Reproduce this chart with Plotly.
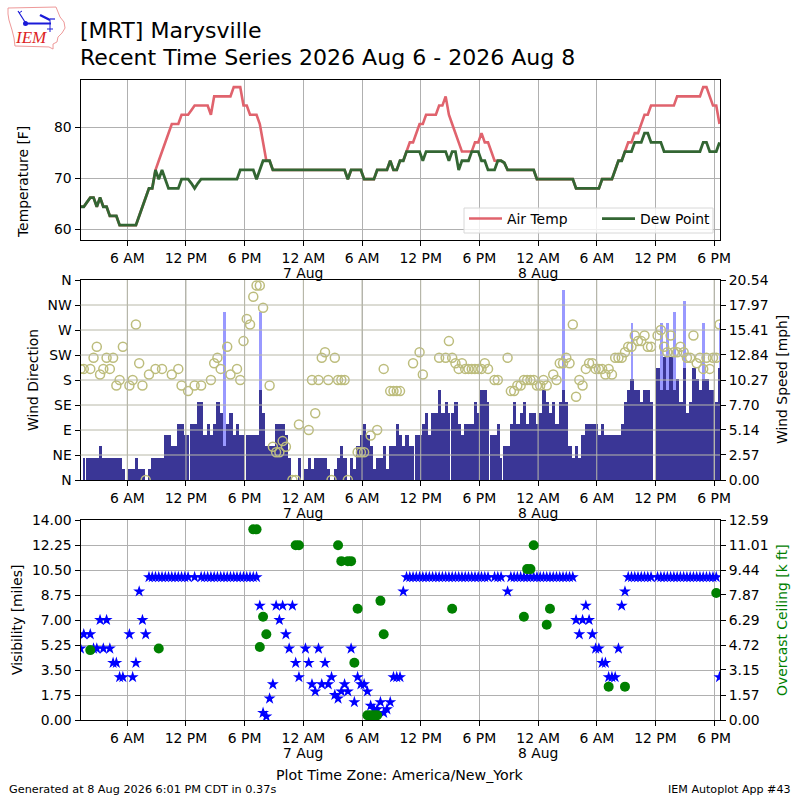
import pandas as pd
import plotly.graph_objects as go

N = None
START = "2026-08-06 01:13"
X_RANGE = ["2026-08-06 01:13", "2026-08-08 18:36"]
PLOT_TITLE = ["[MRT] Marysville", "Recent Time Series 2026 Aug 6 - 2026 Aug 8"]

tick_times = ["2026-08-06 06:00", "2026-08-06 12:00", "2026-08-06 18:00", "2026-08-07 00:00",
              "2026-08-07 06:00", "2026-08-07 12:00", "2026-08-07 18:00", "2026-08-08 00:00",
              "2026-08-08 06:00", "2026-08-08 12:00", "2026-08-08 18:00"]
tick_labels = ["6 AM", "12 PM", "6 PM", "12 AM", "6 AM", "12 PM", "6 PM", "12 AM",
               "6 AM", "12 PM", "6 PM"]
date_times = ["2026-08-07 00:00", "2026-08-08 00:00"]
date_labels = ["7 Aug", "8 Aug"]

# 20 minute samples
air_temp = [
    64.4, 64.4, 65.3, 66.2, 66.2, 64.4, 66.2, 64.4, 64.4, 62.6, 62.6, 62.6, 60.8, 60.8, 60.8, 60.8, 60.8, 60.8,
    62.6, 64.4, 66.2, 68, 68, 71.6, 73.4, 75.2, 77, 78.8, 80.6, 80.6, 80.6, 82.4, 82.4, 82.4, 83.3, 84.2,
    84.2, 84.2, 84.2, 84.2, 82.4, 86, 86, 86, 86, 86, 86, 87.8, 87.8, 87.8, 84.2, 84.2, 82.4, 82.4,
    82.4, 80.6, 77, 73.4, 73.4, 71.6, 71.6, 71.6, 71.6, 71.6, 71.6, 71.6, 71.6, 71.6, 71.6, 71.6, 71.6, 71.6,
    71.6, 71.6, 71.6, 71.6, 71.6, 71.6, 71.6, 71.6, 71.6, 71.6, 69.8, 71.6, 71.6, 71.6, 71.6, 69.8, 69.8, 69.8,
    69.8, 71.6, 71.6, 71.6, 71.6, 73.4, 71.6, 71.6, 73.4, 73.4, 75.2, 77, 77, 78.8, 80.6, 80.6, 82.4, 82.4,
    82.4, 82.4, 84.2, 84.2, 86, 82.4, 80.6, 78.8, 77, 75.2, 75.2, 75.2, 75.2, 77, 77, 78.8, 77, 77,
    75.2, 73.4, 73.4, 73.4, 73, 71.6, 71.6, 71.6, 71.6, 71.6, 71.6, 71.6, 71.6, 71.6, 69.8, 69.8, 69.8, 69.8,
    69.8, 69.8, 69.8, 69.8, 69.8, 69.8, 69.8, 69.8, 68, 68, 68, 68, 68, 68, 68, 68, 69.8, 69.8,
    69.8, 69.8, 71.6, 73.4, 73.4, 75.2, 77, 77, 78.8, 78.8, 80.6, 82.4, 82.4, 84.2, 84.2, 84.2, 84.2, 84.2,
    84.2, 84.2, 84.2, 86, 86, 86, 86, 86, 86, 86, 86, 87.8, 87.8, 86, 84.2, 84.2, 80.6]

dew_point = [
    64.4, 64.4, 65.3, 66.2, 66.2, 64.4, 66.2, 64.4, 64.4, 62.6, 62.6, 62.6, 60.8, 60.8, 60.8, 60.8, 60.8, 60.8,
    62.6, 64.4, 66.2, 68, 68, 71.6, 69.8, 71.6, 69.8, 68, 68, 68, 68, 69.8, 69.8, 69.8, 69, 68,
    69, 69.8, 69.8, 69.8, 69.8, 69.8, 69.8, 69.8, 69.8, 69.8, 69.8, 69.8, 69.8, 71.6, 71.6, 71.6, 71.6, 71.6,
    69.8, 71.6, 73.4, 73.4, 73.4, 71.6, 71.6, 71.6, 71.6, 71.6, 71.6, 71.6, 71.6, 71.6, 71.6, 71.6, 71.6, 71.6,
    71.6, 71.6, 71.6, 71.6, 71.6, 71.6, 71.6, 71.6, 71.6, 71.6, 69.8, 71.6, 71.6, 71.6, 71.6, 69.8, 69.8, 69.8,
    69.8, 71.6, 71.6, 71.6, 71.6, 73.4, 71.6, 71.6, 73.4, 73.4, 75.2, 75.2, 75.2, 75.2, 75.2, 73.4, 75.2, 75.2,
    75.2, 75.2, 75.2, 75.2, 75.2, 73.4, 75.2, 75.2, 71.6, 73.4, 73.4, 73.4, 75.2, 75.2, 75.2, 73.4, 73.4, 71.6,
    71.6, 71.6, 73.4, 73.4, 73, 71.6, 71.6, 71.6, 71.6, 71.6, 71.6, 71.6, 71.6, 71.6, 69.8, 69.8, 69.8, 69.8,
    69.8, 69.8, 69.8, 69.8, 69.8, 69.8, 69.8, 69.8, 68, 68, 68, 68, 68, 68, 68, 68, 69.8, 69.8,
    69.8, 69.8, 71.6, 73.4, 73.4, 75.2, 75.2, 75.2, 77, 77, 77, 78.8, 78.8, 77, 77, 77, 77, 75.2,
    75.2, 75.2, 75.2, 75.2, 75.2, 75.2, 75.2, 75.2, 75.2, 75.2, 75.2, 77, 77, 75.2, 75.2, 75.2, 77]

wind_dir = [
    200, 200, N, 200, 220, 240, 190, 200, 220, 200, 220, 170, 180, 240, N, 170, 180, 280,
    210, 170, 0, 190, N, 200, N, 200, N, N, 190, N, 200, 170, N, 160, N, 170,
    N, 170, N, N, 180, 210, 220, 200, N, 240, 190, N, 200, 180, 250, 290, 280, 330,
    350, 350, 310, N, 170, 60, 50, 50, 70, 60, N, 0, 0, 100, N, N, 90, 180,
    120, 180, 220, 230, 180, 0, 220, 180, 180, 180, 0, N, N, 50, 50, 50, N, 80,
    N, 90, N, 200, N, 160, 160, 160, 160, N, N, N, 210, N, 230, 190, N, N,
    N, N, 220, N, 220, 250, 220, 210, 200, 210, 200, 200, 200, 200, 200, 200, 210, 200,
    N, 180, 180, N, N, 220, 160, 160, 170, 170, 180, 180, 180, 180, 170, 170, 180, 170,
    N, 190, 180, 210, 210, 220, 210, 280, 150, 180, 170, 200, 210, 210, 200, 200, 200, 190,
    200, 190, 220, 220, 220, 230, 240, 240, 260, 250, 250, 260, 240, 240, N, 260, 270, 240,
    230, 260, 230, 230, 240, 230, 220, 220, 260, 210, 220, 200, 220, 200, 220, 220, 280]

wind_knots = [
    0, 2, 2, 2, 2, 2, 3, 2, 2, 2, 2, 2, 2, 1, 0, 1, 1, 2,
    1, 1, 0, 1, 2, 2, 2, 2, 4, 4, 3, 3, 5, 5, 4, 4, 5, 5,
    7, 7, 4, 5, 4, 5, 7, 6, 3, 5, 6, 4, 5, 4, 4, 4, 4, 4,
    4, 8, 6, 3, 3, 3, 5, 5, 5, 4, 2, 0, 0, 2, 0, 1, 2, 1,
    2, 2, 2, 2, 1, 0, 1, 2, 3, 2, 0, 2, 1, 3, 4, 5, 4, 3,
    1, 2, 2, 3, 1, 3, 3, 5, 4, 3, 4, 3, 3, 4, 4, 5, 6, 4,
    6, 6, 8, 6, 7, 6, 6, 7, 5, 4, 5, 5, 5, 7, 6, 8, 8, 7,
    4, 4, 5, 2, 3, 3, 5, 7, 5, 6, 7, 5, 6, 6, 5, 6, 8, 7,
    6, 7, 5, 7, 8, 7, 3, 2, 3, 2, 4, 5, 5, 5, 5, 4, 5, 4,
    4, 4, 4, 4, 5, 7, 8, 9, 8, 8, 7, 8, 8, 7, 0, 10, 8, 11,
    8, 11, 8, 9, 7, 10, 6, 7, 10, 9, 8, 9, 9, 8, 8, 7, 10]
gust_sample = [44, 55, 148, 169, 178, 180, 182, 185, 191, 196]
gust_knots = [15, 15, 17, 14, 14, 14, 15, 16, 14, 14]
wind_gap_sample = [1, 33, 50, 102, 113, 125, 129, 194]

direction_ticks = [0, 45, 90, 135, 180, 225, 270, 315, 360]
direction_labels = ["N", "NE", "E", "SE", "S", "SW", "W", "NW", "N"]
speed_ticks = [0, 2.57, 5.14, 7.70, 10.27, 12.84, 15.41, 17.97, 20.54]
speed_labels = ["0.00", "2.57", "5.14", "7.70", "10.27", "12.84", "15.41", "17.97", "20.54"]

visibility = [
    5, 6, N, 6, 5, 5, 7, 5, 7, 5, 4, 4, 3, 3, N, 6, 3, 4,
    9, 7, 6, 10, 10, 10, 10, 10, 10, 10, 10, 10, 10, 10, 10, 10, N, 10,
    N, 10, 10, 10, 10, 10, 10, 10, 10, 10, 10, 10, 10, 10, 10, 10, 10, 10,
    10, 8, .5, .25, 1.5, 2.5, 8, 7, 8, 6, 5, 8, 4, 3, N, 5, 4, 2.5,
    2, 5, 2.5, 4, 2.5, 3, 1.75, 1.5, 2, 2.5, 2, 5, 1.25, 3, 2.5, 2.5, 2, 1,
    .75, .75, 1.25, .5, .75, 1.25, 3, 3, 3, 9, 10, 10, 10, 10, 10, 10, 10, 10,
    10, 10, 10, 10, 10, 10, 10, 10, 10, 10, 10, 10, 10, 10, 10, 10, 10, 10,
    N, 10, 10, 10, N, 9, 10, 10, 10, 10, 10, 10, 10, 10, 10, 10, 10, 10,
    10, 10, 10, 10, 10, 10, 10, 10, 7, 6, 7, 8, 7, 6, 5, 5, 4, 4,
    3, 3, 3, 5, 8, 9, 10, 10, 10, 10, 10, 10, 10, 10, N, 10, 10, 10,
    10, 10, 10, 10, 10, 10, 10, 10, 10, 10, 10, 10, 10, 10, 10, 10, 3]
ceiling_sample = [3, 24, 53, 54, 55, 56, 57, 66, 67, 79, 80, 82, 83, 84, 85, 88, 89, 90, 91, 92, 93,
                  114, 136, 137, 138, 139, 143, 144, 162, 167, 195]
ceiling_kft = [4.4, 4.5, 12, 12, 4.6, 6.5, 5.4, 11, 11, 11, 10, 10, 10, 3.6, 7, .3, .3, .3, .3, 7.5, 5.4,
               7, 6.5, 9.5, 9.5, 11, 6, 7, 2.1, 2.1, 8]
vis_ticks = [0, 1.75, 3.5, 5.25, 7, 8.75, 10.5, 12.25, 14]
vis_labels = ["0.00", "1.75", "3.50", "5.25", "7.00", "8.75", "10.50", "12.25", "14.00"]
ceil_ticks = [0, 1.57, 3.15, 4.72, 6.29, 7.87, 9.44, 11.01, 12.59]
ceil_labels = ["0.00", "1.57", "3.15", "4.72", "6.29", "7.87", "9.44", "11.01", "12.59"]

# Colours and sizes
RED, GREEN, NAVY, GUST, OLIVE = "#e0636d", "#336633", "#3a3696", "#9999ff", "#bdbd7d"
GRID, GRID_OVER, FS = "#b0b0b0", "#b8b8a8", 13.9
FONT = "DejaVu Sans"
KT_TO_MPH = 1.15078


def px_x(p):
    return p / 800


def px_y(p):
    return 1 - p / 800


times = pd.date_range(START, periods=len(air_temp), freq="20min")
wind_mph = [k * KT_TO_MPH for k in wind_knots]
gust_x = [times[i] for i in gust_sample]
gust_base = [wind_mph[i] for i in gust_sample]
gust_rise = [g * KT_TO_MPH - b for g, b in zip(gust_knots, gust_base)]
ms20 = 20 * 60 * 1000
bar_width = [ms20 * 0.7 if i in wind_gap_sample else ms20 for i in range(len(times))]
bar_offset = [-ms20 / 2] * len(times)

fig = go.Figure()
fig.add_trace(go.Scatter(x=times, y=air_temp, mode="lines", name="Air Temp", xaxis="x", yaxis="y",
                         line=dict(color=RED, width=2.6)))
fig.add_trace(go.Scatter(x=times, y=dew_point, mode="lines", name="Dew Point", xaxis="x", yaxis="y",
                         line=dict(color=GREEN, width=2.8)))

fig.add_trace(go.Bar(x=times, y=wind_mph, xaxis="x2", yaxis="y2", width=bar_width, offset=bar_offset,
                     marker=dict(color=NAVY, line_width=0), showlegend=False))
fig.add_trace(go.Bar(x=gust_x, y=gust_rise, base=gust_base, xaxis="x2", yaxis="y2", width=ms20 * 0.9,
                     marker=dict(color=GUST, line_width=0), showlegend=False))
fig.add_trace(go.Scatter(x=times, y=wind_dir, mode="markers", xaxis="x2", yaxis="y3", showlegend=False,
                         marker=dict(symbol="circle-open", size=9, color=OLIVE, line=dict(color=OLIVE, width=1.5))))

fig.add_trace(go.Scatter(x=times, y=visibility, mode="markers", xaxis="x3", yaxis="y4", showlegend=False,
                         marker=dict(symbol="star", size=9, color="#0000ff", line_width=0)))
fig.add_trace(go.Scatter(x=[times[i] for i in ceiling_sample], y=ceiling_kft, mode="markers", xaxis="x3", yaxis="y5",
                         showlegend=False, marker=dict(symbol="circle", size=10, color="#008000", line_width=0)))

tickfont = dict(family=FONT, size=FS, color="#000000")
xcommon = dict(type="date", range=X_RANGE, tickmode="array", tickvals=tick_times, ticktext=tick_labels,
               tickfont=tickfont, ticks="outside", ticklen=5, tickwidth=1, tickcolor="#000", showline=True,
               linecolor="#000", linewidth=1, mirror=True, showgrid=True, gridcolor=GRID, gridwidth=1,
               zeroline=False, domain=[px_x(80.5), px_x(720)], tickangle=0)
ycommon = dict(tickfont=tickfont, ticks="outside", ticklen=5, tickwidth=1, tickcolor="#000", showline=True,
               linecolor="#000", linewidth=1, zeroline=False, tickmode="array")


def dom(top, bottom):
    return [px_y(bottom), px_y(top)]


layout = dict(
    width=800, height=800, margin=dict(l=0, r=0, t=0, b=0, autoexpand=False),
    paper_bgcolor="white", plot_bgcolor="white", barmode="overlay", bargap=0,
    font=dict(family=FONT, size=FS, color="#000"), hovermode=False,
    xaxis=dict(xcommon, anchor="y"),
    yaxis=dict(ycommon, domain=dom(80, 240), range=[57.9, 89.2], tickvals=[60, 70, 80], ticktext=["60", "70", "80"],
               showgrid=True, gridcolor=GRID, gridwidth=1, mirror=True, anchor="x"),
    xaxis2=dict(xcommon, anchor="y2"),
    yaxis2=dict(ycommon, domain=dom(280, 480), range=[0, 20.54], tickvals=speed_ticks, ticktext=speed_labels,
                side="right", showgrid=False, anchor="x2"),
    yaxis3=dict(ycommon, domain=dom(280, 480), range=[0, 360], tickvals=direction_ticks, ticktext=direction_labels,
                side="left", overlaying="y2", showgrid=False, anchor="x2"),
    xaxis3=dict(xcommon, anchor="y4"),
    yaxis4=dict(ycommon, domain=dom(520, 720), range=[0, 14], tickvals=vis_ticks, ticktext=vis_labels,
                side="left", showgrid=True, gridcolor=GRID, gridwidth=1, anchor="x3"),
    yaxis5=dict(ycommon, domain=dom(520, 720), range=[0, 12.59], tickvals=ceil_ticks, ticktext=ceil_labels,
                side="right", overlaying="y4", showgrid=False, anchor="x3"),
    legend=dict(orientation="h", x=px_x(464), y=px_y(203), xanchor="left", yanchor="top",
                bgcolor="rgba(0,0,0,0)", borderwidth=0,
                font=dict(family=FONT, size=FS), entrywidth=85, itemwidth=33),
)
fig.update_layout(**layout)

shapes = []
# Legend frame
shapes.append(dict(type="rect", xref="paper", yref="paper", x0=px_x(464), x1=px_x(713), y0=px_y(233), y1=px_y(208),
                   line=dict(color="#d8d8d8", width=1), fillcolor="rgba(255,255,255,0.8)", layer="above"))
# Panel 2 has its grid above the wind bars
for t in tick_times:
    shapes.append(dict(type="line", xref="x2", yref="paper", x0=t, x1=t, y0=px_y(480), y1=px_y(280),
                       line=dict(color=GRID_OVER, width=1), layer="above"))
for d in direction_ticks[1:-1]:
    shapes.append(dict(type="line", xref="paper", yref="y3", x0=px_x(80.5), x1=px_x(720), y0=d, y1=d,
                       line=dict(color=GRID_OVER, width=1), layer="above"))

# IEM logo, drawn in page coordinates
logo_outline = [(8, 8), (56, 7), (58, 12), (60, 17), (64, 22), (65, 28), (62, 33), (58, 37), (57, 42),
                (53, 44), (53, 49), (49, 47), (15, 46), (14, 38), (12, 30), (9, 20), (8, 14)]
path = "M " + " L ".join(f"{px_x(a):.4f},{px_y(b):.4f}" for a, b in logo_outline) + " Z"
shapes.append(dict(type="path", xref="paper", yref="paper", path=path, line=dict(color="#ee9999", width=1)))
logo_strokes = [((25, 23.5), (51, 23.5), 2), ((40, 15), (50, 20), 2.5), ((50, 19), (55, 19), 1.2), ((50, 20), (50, 32), 1),
                ((18, 11), (25, 22), 1.2), ((19, 13), (22, 11), 1), ((47, 29), (53, 29), 1)]
for (a, b), (c, d), w in logo_strokes:
    shapes.append(dict(type="line", xref="paper", yref="paper", x0=px_x(a), y0=px_y(b), x1=px_x(c), y1=px_y(d),
                       line=dict(color="#1a1ad8", width=w)))
shapes.append(dict(type="circle", xref="paper", yref="paper", x0=px_x(23), x1=px_x(28), y0=px_y(21), y1=px_y(26),
                   fillcolor="#1a1ad8", line_width=0))
fig.update_layout(shapes=shapes)


def label(text, x, y, size=FS, color="#000", angle=0, anchor="center", family=FONT):
    fig.add_annotation(text=text, x=px_x(x), y=px_y(y), xref="paper", yref="paper", showarrow=False,
                       xanchor=anchor, yanchor="middle", textangle=angle, borderpad=0,
                       font=dict(family=family, size=size, color=color))


label(PLOT_TITLE[0], 79, 31, size=22.05, anchor="left")
label(PLOT_TITLE[1], 79, 57, size=22.05, anchor="left")
label("<i>IEM</i>", 31, 38, size=17, color="#dd2222", family="Liberation Serif")
label("Temperature [F]", 23, 182, angle=-90)
label("Wind Direction", 33, 380, angle=-90)
label("Visibility [miles]", 17, 620, angle=-90)
label("Wind Speed [mph]", 782, 380, angle=-90)
label("Overcast Ceiling [k ft]", 782, 620, color="#008000", angle=-90)
label("Plot Time Zone: America/New_York", 400, 775, size=14.2)
label("Generated at 8 Aug 2026 6:01 PM CDT in 0.37s", 8, 789, size=11.25, anchor="left")
label("IEM Autoplot App #43", 792, 789, size=11.1, anchor="right")

for xref, ypx in (("x", 273), ("x2", 513), ("x3", 753)):
    for t, text in zip(date_times, date_labels):
        fig.add_annotation(text=text, x=t, xref=xref, y=px_y(ypx), yref="paper", showarrow=False,
                           xanchor="center", yanchor="middle", font=dict(family=FONT, size=FS, color="#000"))

fig.write_html("out.html", config=dict(displayModeBar=False),
               post_script="document.body.style.margin='0';")
